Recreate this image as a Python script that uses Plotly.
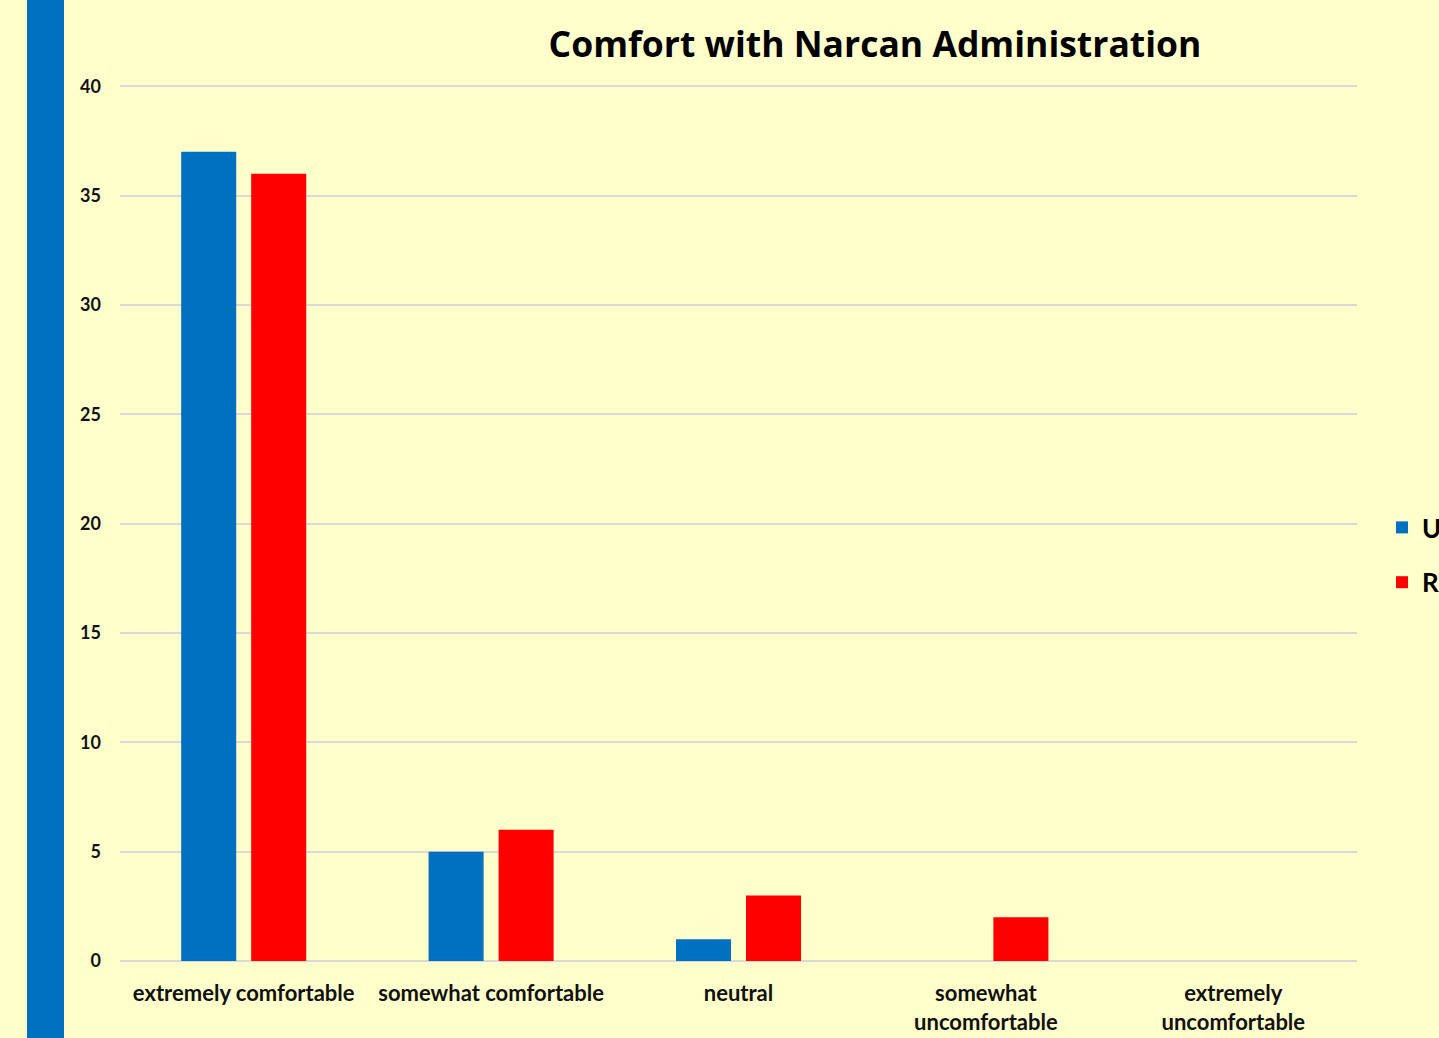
import plotly.graph_objects as go

categories = ["extremely comfortable", "somewhat comfortable", "neutral",
              "somewhat<br>uncomfortable", "extremely<br>uncomfortable"]
series_names = ["Urban", "Rural"]
blue_values = [37, 5, 1, 0, 0]
red_values = [36, 6, 3, 2, 0]
y_ticks = [0, 5, 10, 15, 20, 25, 30, 35, 40]

W, H = 1439, 1038
L, R, T, B = 120, 82, 84, 77
pw, ph = W - L - R, H - T - B

font_fam = "Lato, 'Open Sans', sans-serif"

fig = go.Figure()
fig.add_trace(go.Bar(x=categories, y=blue_values, name=series_names[0],
                     marker=dict(color="#0070C0", line=dict(width=0)),
                     legendgroup="a"))
fig.add_trace(go.Bar(x=categories, y=red_values, name=series_names[1],
                     marker=dict(color="#FF0000", line=dict(width=0)),
                     legendgroup="b"))

# left decorative strip
fig.add_shape(type="rect", xref="paper", yref="paper",
              x0=(27 - L) / pw, x1=(64 - L) / pw,
              y0=(H - T - H) / ph - 0.01, y1=(H - B) / ph + 0.01,
              fillcolor="#0070C0", line=dict(width=0), layer="below")

fig.update_layout(
    width=W, height=H,
    margin=dict(l=L, r=R, t=T, b=B, autoexpand=False),
    paper_bgcolor="#FFFFCC", plot_bgcolor="#FFFFCC",
    barmode="group", bargap=0.434, bargroupgap=0.214,
    title=dict(text="<b>Comfort with Narcan Administration</b>",
               x=(875 - 0) / W, xanchor="center", y=1 - 45 / H, yanchor="middle",
               font=dict(family="'Open Sans', Lato, sans-serif", size=35.5, color="#000000")),
    font=dict(family=font_fam, color="#000000"),
    legend=dict(x=(1382 - L) / pw, xanchor="left", y=(H - B - 555) / ph, yanchor="middle",
                bgcolor="rgba(0,0,0,0)", font=dict(size=26, family=font_fam, weight="bold"),
                traceorder="grouped", tracegroupgap=18, itemwidth=30),
    xaxis=dict(showgrid=False, showline=False, zeroline=False, ticks="",
               tickfont=dict(size=22, family=font_fam, color="#111111", weight="bold"),
               ticklabelstandoff=17),
    yaxis=dict(range=[0, 40.1], tickvals=y_ticks, showgrid=True, gridcolor="#D9D9D9",
               gridwidth=2, zeroline=True, zerolinecolor="#D9D9D9", zerolinewidth=2,
               showline=False, ticks="",
               tickfont=dict(size=18, family=font_fam, color="#111111", weight="bold"),
               ticklabelstandoff=18),
)

fig.write_html("out.html")
